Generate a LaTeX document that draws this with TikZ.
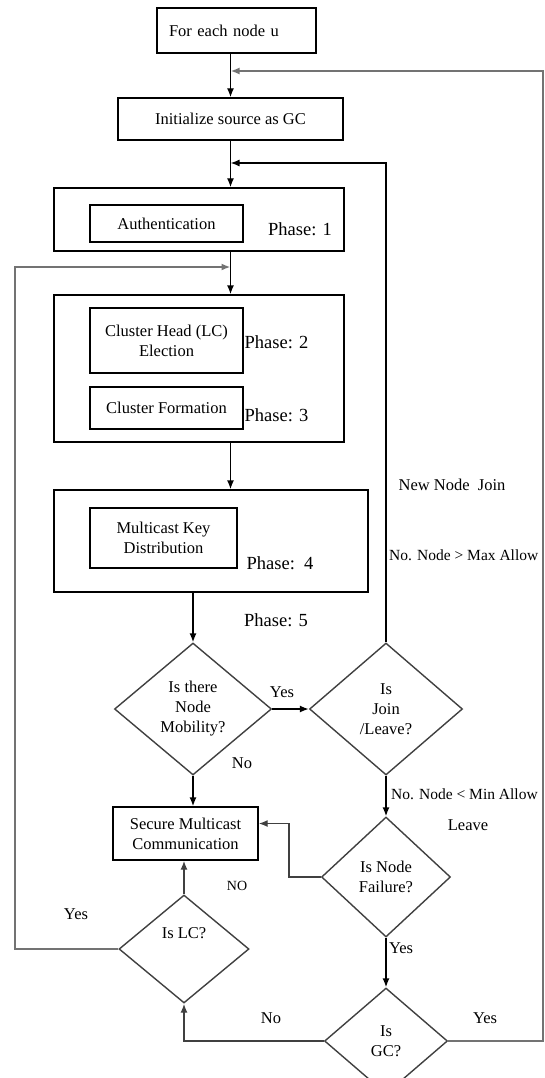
\documentclass[tikz,border=0pt]{standalone}
\usepackage{fontspec}
\setmainfont{Liberation Serif}
\usetikzlibrary{shapes.geometric,arrows.meta}

\begin{document}
\begin{tikzpicture}[x=1pt,y=-1pt,
  font=\fontsize{16.5}{20}\selectfont,
  >={Latex[length=9pt,width=7pt]},
  box/.style={draw,line width=1.4pt,inner sep=0pt,align=center},
  decision/.style={diamond,draw=black!75,line width=1.4pt,inner sep=0pt,align=center},
  phase/.style={font=\fontsize{18.5}{20}\selectfont},
  edgelbl/.style={anchor=west,inner sep=0pt,font=\fontsize{15.5}{18}\selectfont},
  loopline/.style={draw=black!55,line width=2pt,->},
  flow/.style={line width=1.4pt,->}]

\useasboundingbox (0,0) rectangle (545,1078);

% boxes
\node[box,minimum width=159pt,minimum height=45pt,text width=135pt,inner xsep=12pt,align=left] (start) at (236.5,30.5) {For each node u};
\node[box,minimum width=225pt,minimum height=42pt] (init) at (230.5,119) {Initialize source as GC};
\node[box,minimum width=290pt,minimum height=63pt] (ph1) at (199,219.5) {};
\node[box,minimum width=153pt,minimum height=37pt] (auth) at (166.5,223.5) {Authentication};
\node[phase] (ph1lbl) at (300,229) {Phase: 1};
\node[box,minimum width=290pt,minimum height=147pt] (ph23) at (199,368.5) {};
\node[box,minimum width=153pt,minimum height=65pt] (chead) at (166.5,340.5) {Cluster Head (LC)\\Election};
\node[phase] (ph2lbl) at (276.5,342) {Phase: 2};
\node[box,minimum width=153pt,minimum height=42pt] (cform) at (166.5,408) {Cluster Formation};
\node[phase] (ph3lbl) at (276.5,415) {Phase: 3};
\node[box,minimum width=314pt,minimum height=102pt] (mkd) at (211,541) {};
\node[box,minimum width=147pt,minimum height=60pt] (mkdin) at (163.5,538) {Multicast Key\\Distribution};
\node[phase] (ph4lbl) at (280,563) {Phase:\ \ 4};
\node[phase] (ph5lbl) at (276,620) {Phase: 5};
\node[box,minimum width=145pt,minimum height=53pt] (smc) at (185.5,833.5) {Secure Multicast\\Communication};

% decisions
\node[decision,minimum width=157pt,minimum height=132pt] (mob) at (193,709) {Is there\\Node\\Mobility?};
\node[decision,minimum width=153pt,minimum height=132pt] (join) at (386,709) {Is\\Join\\/Leave?};
\node[decision,minimum width=129pt,minimum height=120pt] (fail) at (386,877) {Is Node\\Failure?};
\node[decision,minimum width=130pt,minimum height=108pt] (lc) at (184,949) {Is LC?\\[12pt]};
\node[decision,minimum width=123pt,minimum height=106pt] (gc) at (386,1041) {Is\\GC?};

% labels
\node (yesmob) at (282,692) {Yes};
\node (nomob) at (242,763) {No};
\node (newjoin) at (452,485) {New Node\ \ Join};
\node[edgelbl] (maxallow) at (389,555) {No. Node > Max Allow};
\node[edgelbl] (minallow) at (391,794) {No. Node < Min Allow};
\node (leave) at (468,825) {Leave};
\node[font=\fontsize{14}{16}\selectfont] (nofail) at (237,886) {NO};
\node (yeslc) at (76,914) {Yes};
\node (yesfail) at (401,948) {Yes};
\node (nogc) at (271,1018) {No};
\node (yesgc) at (485,1018) {Yes};

% junctions
\coordinate (jtop) at (230.5,71);
\coordinate (jmid) at (230.5,163);
\coordinate (jleft) at (230.5,267);
\coordinate (rline) at (543,71);
\coordinate (lline) at (15,267);

% arrows
\draw[flow] (init.north |- start.south) -- (init.north);
\draw[flow] (init.south) -- (init.south |- ph1.north);
\draw[flow] (jleft |- ph1.south) -- (jleft |- ph23.north);
\draw[flow] (jleft |- ph23.south) -- (jleft |- mkd.north);
\draw[flow] (mob.north |- mkd.south) -- (mob.north);
\draw[flow] (mob.east) -- (join.west);
\draw[flow] (mob.south) -- (mob.south |- smc.north);
\draw[flow] (join.south) -- (fail.north);
\draw[flow,draw=black!75] (fail.west) -- ++(-32,0) |- ([yshift=10pt]smc.east);
\draw[flow] (fail.south) -- (gc.north);
\draw[flow,draw=black!75] (gc.west) -| (lc.south);
\draw[flow,draw=black!75] (lc.north) -- (lc.north |- smc.south);

% loops back
\draw[flow] (join.north) |- (jmid);
\draw[loopline] (gc.east) -| (rline) -- (jtop);
\draw[loopline] (lc.west) -| (lline) -- (jleft);
\end{tikzpicture}
\end{document}
